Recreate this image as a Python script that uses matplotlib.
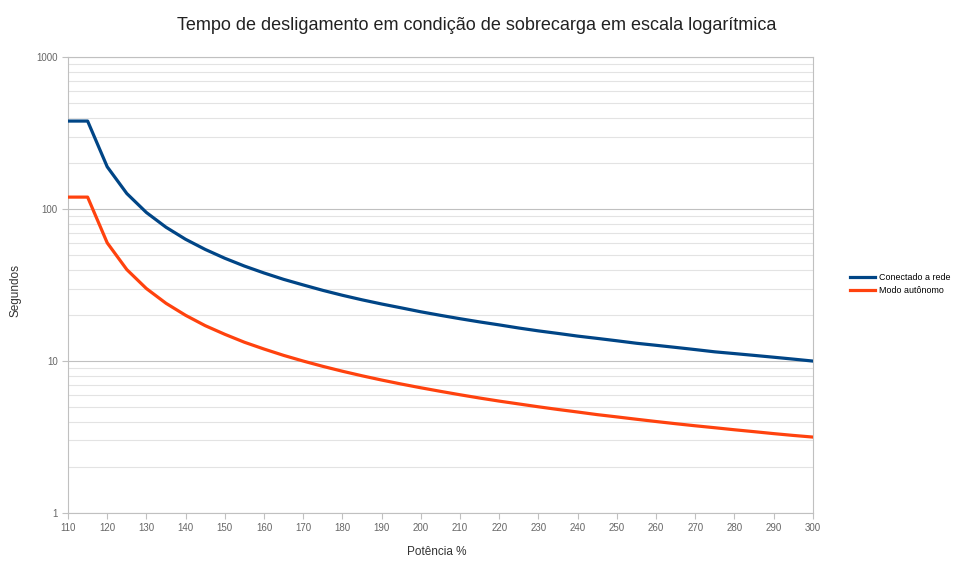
import matplotlib
matplotlib.use("Agg")
import matplotlib.pyplot as plt
from matplotlib.ticker import FixedLocator, FixedFormatter, LogLocator, NullFormatter

plt.rcParams['font.family'] = ['Liberation Sans', 'DejaVu Sans']

# Potência % (x) and tempos de desligamento em segundos (y)
potencia = [110, 115, 120, 125, 130, 135, 140, 145, 150, 155, 160, 165, 170, 175,
            180, 185, 190, 195, 200, 205, 210, 215, 220, 225, 230, 235, 240, 245,
            250, 255, 260, 265, 270, 275, 280, 285, 290, 295, 300]

conectado_rede = [380, 380, 190, 126.7, 95, 76, 63.3, 54.3, 47.5, 42.2, 38, 34.5, 31.7, 29.2,
                  27.1, 25.3, 23.75, 22.4, 21.1, 20, 19, 18.1, 17.3, 16.5, 15.8, 15.2, 14.6, 14.1,
                  13.6, 13.1, 12.7, 12.3, 11.9, 11.5, 11.2, 10.9, 10.6, 10.3, 10.0]

modo_autonomo = [120, 120, 60, 40, 30, 24, 20, 17.1, 15, 13.3, 12, 10.9, 10, 9.23,
                 8.57, 8, 7.5, 7.06, 6.67, 6.32, 6, 5.71, 5.45, 5.22, 5, 4.8, 4.62, 4.44,
                 4.29, 4.14, 4, 3.87, 3.75, 3.64, 3.53, 3.43, 3.33, 3.24, 3.16]

x_ticks = list(range(110, 301, 10))
y_ticks = [1, 10, 100, 1000]

fig = plt.figure(figsize=(9.54, 5.61), dpi=100)
ax = fig.add_axes([0.0713, 0.0856, 0.7807, 0.8124])

ax.plot(potencia, conectado_rede, color='#004586', lw=2.3, label='Conectado a rede', zorder=3)
ax.plot(potencia, modo_autonomo, color='#ff420e', lw=2.3, label='Modo autônomo', zorder=3)

ax.set_yscale('log')
ax.set_xlim(110, 300)
ax.set_ylim(1, 1000)

ax.yaxis.set_major_locator(FixedLocator(y_ticks))
ax.yaxis.set_major_formatter(FixedFormatter([str(v) for v in y_ticks]))
ax.yaxis.set_minor_locator(LogLocator(base=10, subs=range(2, 10)))
ax.yaxis.set_minor_formatter(NullFormatter())
ax.set_xticks(x_ticks)

ax.grid(True, which='major', axis='y', color='#c0c0c0', lw=0.8)
ax.grid(True, which='minor', axis='y', color='#e3e3e3', lw=0.8)
ax.set_axisbelow(True)

for s in ax.spines.values():
    s.set_color('#c0c0c0')
    s.set_linewidth(0.8)

ax.tick_params(axis='both', which='major', labelsize=7, colors='#c0c0c0', labelcolor='#666666', length=4)
ax.tick_params(axis='y', which='minor', length=0)

fig.text(0.5, 0.955, 'Tempo de desligamento em condição de sobrecarga em escala logarítmica',
         ha='center', va='center', fontsize=13, color='#222222')
fig.text(0.458, 0.016, 'Potência %', ha='center', va='center', fontsize=8.5, color='#333333')
fig.text(0.016, 0.483, 'Segundos', ha='center', va='center', rotation=90, fontsize=8.5, color='#333333')

ax.legend(loc='center left', bbox_to_anchor=(1.039, 0.503), frameon=False, fontsize=6.4,
          handlelength=2.8, handletextpad=0.45, labelspacing=0.45)

fig.savefig('out.png', dpi=100)
